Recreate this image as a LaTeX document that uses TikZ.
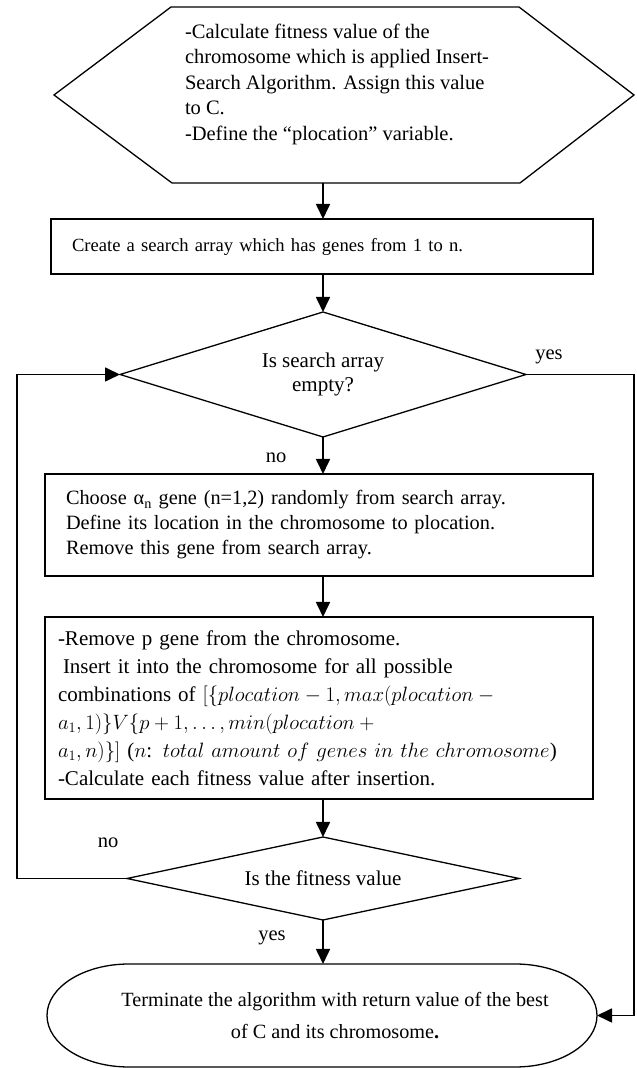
\documentclass[tikz,border=0pt]{standalone}
\usepackage{fontspec}
\setmainfont{Liberation Serif}
\usetikzlibrary{arrows.meta,shapes.geometric}
\begin{document}
\begin{tikzpicture}[x=1pt,y=1pt,
  every node/.style={font=\fontsize{20.5}{25.5}\selectfont, inner sep=0pt, outer sep=0pt},
  outline/.style={draw, line width=1.3pt},
  conn/.style={line width=1.7pt},
  arr/.style={conn, -{Triangle[length=15pt,width=14pt]}},
  procbox/.style={outline, rectangle, align=left},
  decision/.style={outline, diamond, align=center},
  frame/.style={rectangle}]
\useasboundingbox (0,0) rectangle (637,1068);

% vertical guide columns for the connectors
\coordinate (colx) at (323,0);
\coordinate (lx) at (17,0);
\coordinate (rx) at (634,0);

% start: hexagon
\node[frame, minimum width=580pt, minimum height=176pt] (hex) at (344,973) {};
\draw[outline] (hex.west) -- ([xshift=117pt]hex.north west) -- ([xshift=-115pt]hex.north east)
  -- (hex.east) -- ([xshift=-114pt]hex.south east) -- ([xshift=118pt]hex.south west) -- cycle;
\node[anchor=north west, align=left] (hextxt) at (185,1044)
  {-Calculate fitness value of the\\chromosome which is applied Insert-\\Search Algorithm. Assign this value\\to C.\\-Define the “plocation” variable.};

% process boxes
\node[procbox, minimum width=542pt, minimum height=55pt, text width=500pt,
      font=\fontsize{18.6}{24}\selectfont] (b1) at (322,821.5)
  {Create a search array which has genes from 1 to n.};

\node[decision, aspect=3.2, minimum width=406pt, minimum height=125pt,
      font=\fontsize{21}{24}\selectfont] (d1) at (323,693.5) {Is search array\\empty?};

\node[procbox, minimum width=548pt, minimum height=102pt, text width=506pt,
      font=\fontsize{20.3}{25}\selectfont] (b2) at (319,543)
  {Choose α\textsubscript{n} gene (n=1,2) randomly from search array.\\
   Define its location in the chromosome to plocation.\\
   Remove this gene from search array.};

\node[procbox, minimum width=548pt, minimum height=182pt, text width=522pt,
      font=\fontsize{21}{28}\selectfont] (b3) at (319,360)
  {-Remove p gene from the chromosome.\\
   \makebox[522pt][s]{\hspace*{5pt}Insert it into the chromosome for all possible}\\
   \makebox[522pt][s]{combinations of \mbox{$[\{plocation-1,max(plocation-{}$}}\\
   $a_1,1)\}V\{p+1,\ldots,min(plocation+{}$\\
   $a_1,n)\}]$ ($n$: $total\ amount\ of\ genes\ in\ the\ chromosome$)\\
   -Calculate each fitness value after insertion.};

\node[decision, aspect=4.7, minimum width=392pt, minimum height=83pt,
      font=\fontsize{21}{24}\selectfont] (d2) at (323,189.5)
  {Is the fitness value};

% end: terminal with elliptical caps
\node[frame, minimum width=550pt, minimum height=103pt] (term) at (322,52.5) {};
\draw[outline] ([xshift=82pt]term.north west) -- ([xshift=-82pt]term.north east)
  arc[start angle=90, end angle=-90, x radius=82pt, y radius=51.5pt]
  -- ([xshift=82pt]term.south west)
  arc[start angle=270, end angle=90, x radius=82pt, y radius=51.5pt] -- cycle;
\node[align=center, font=\fontsize{20.2}{32}\selectfont] (termtxt) at (335,52.5)
  {Terminate the algorithm with return value of the best\\of C and its chromosome\textbf{.}};

% branch labels
\node (yes1) at (549,711) {yes};
\node (no1) at (276,610) {no};
\node (no2) at (108,225) {no};
\node (yes2) at (272,130) {yes};

% connectors
\draw[arr] (hex.south -| colx) -- (b1.north -| colx);
\draw[arr] (b1.south -| colx) -- (d1.north);
\draw[arr] (d1.south) -- (b2.north -| colx);
\draw[arr] (b2.south -| colx) -- (b3.north -| colx);
\draw[arr] (b3.south -| colx) -- (d2.north);
\draw[arr] (d2.south) -- (term.north -| colx);
\draw[arr] (d1.east) -- (d1.east -| rx) -- (term.east -| rx) -- (term.east);
\draw[arr] (d2.west) -- (d2.west -| lx) -- (d1.west -| lx) -- (d1.west);
\end{tikzpicture}
\end{document}
